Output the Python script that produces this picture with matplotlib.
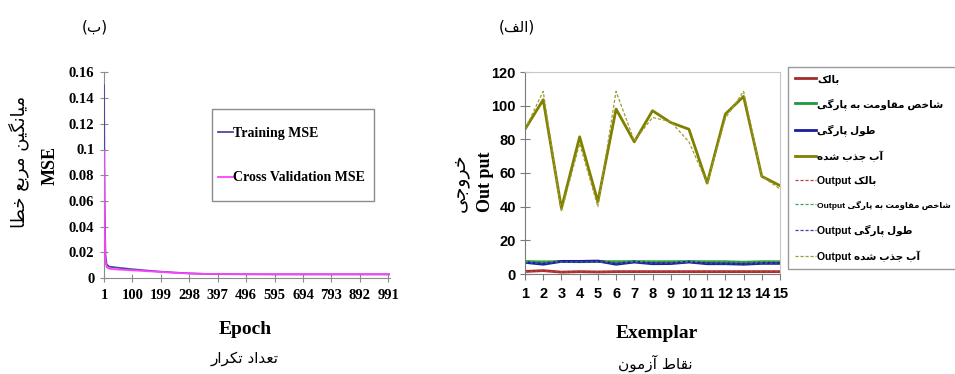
import matplotlib
matplotlib.use("Agg")
import matplotlib.pyplot as plt
from matplotlib.patches import Rectangle

# Persian letters -> presentation forms: (isolated, final) for right-joining
# letters, (isolated, final, initial, medial) for dual-joining ones.
FORMS = {
    "ا": (0xFE8D, 0xFE8E), "آ": (0xFE81, 0xFE82),
    "د": (0xFEA9, 0xFEAA), "ذ": (0xFEAB, 0xFEAC),
    "ر": (0xFEAD, 0xFEAE), "ز": (0xFEAF, 0xFEB0),
    "و": (0xFEED, 0xFEEE),
    "ب": (0xFE8F, 0xFE90, 0xFE91, 0xFE92),
    "پ": (0xFB56, 0xFB57, 0xFB58, 0xFB59),
    "ت": (0xFE95, 0xFE96, 0xFE97, 0xFE98),
    "ج": (0xFE9D, 0xFE9E, 0xFE9F, 0xFEA0),
    "خ": (0xFEA5, 0xFEA6, 0xFEA7, 0xFEA8),
    "ش": (0xFEB5, 0xFEB6, 0xFEB7, 0xFEB8),
    "ص": (0xFEB9, 0xFEBA, 0xFEBB, 0xFEBC),
    "ط": (0xFEC1, 0xFEC2, 0xFEC3, 0xFEC4),
    "ع": (0xFEC9, 0xFECA, 0xFECB, 0xFECC),
    "ف": (0xFED1, 0xFED2, 0xFED3, 0xFED4),
    "ق": (0xFED5, 0xFED6, 0xFED7, 0xFED8),
    "ک": (0xFB8E, 0xFB8F, 0xFB90, 0xFB91),
    "گ": (0xFB92, 0xFB93, 0xFB94, 0xFB95),
    "ل": (0xFEDD, 0xFEDE, 0xFEDF, 0xFEE0),
    "م": (0xFEE1, 0xFEE2, 0xFEE3, 0xFEE4),
    "ن": (0xFEE5, 0xFEE6, 0xFEE7, 0xFEE8),
    "ه": (0xFEE9, 0xFEEA, 0xFEEB, 0xFEEC),
    "ی": (0xFBFC, 0xFBFD, 0xFBFE, 0xFBFF),
}


def fa(text):
    """Shape Persian text and put it in visual (left-to-right) order."""
    out = []
    for i, ch in enumerate(text):
        forms = FORMS.get(ch)
        if forms is None:
            out.append(ch)
            continue
        prev = text[i - 1] if i > 0 else ""
        nxt = text[i + 1] if i + 1 < len(text) else ""
        join_prev = prev in FORMS and len(FORMS[prev]) == 4
        join_next = len(forms) == 4 and nxt in FORMS
        if join_prev and join_next:
            out.append(chr(forms[3]))
        elif join_prev:
            out.append(chr(forms[1]))
        elif join_next:
            out.append(chr(forms[2]))
        else:
            out.append(chr(forms[0]))
    return "".join(reversed(out)).translate(str.maketrans("()", ")("))


# --- (b) training curves ---
epochs = [1, 3, 6, 10, 20, 50, 100, 150, 200, 250, 300, 350, 400, 500,
          600, 700, 800, 900, 1000]
training_mse = [0.150, 0.060, 0.018, 0.0105, 0.0088, 0.0080, 0.0068, 0.0058,
                0.0049, 0.0042, 0.0036, 0.0032, 0.0030, 0.0029, 0.0028,
                0.0028, 0.0028, 0.0028, 0.0028]
cv_mse = [0.099, 0.040, 0.013, 0.0085, 0.0072, 0.0066, 0.0060, 0.0053,
          0.0047, 0.0040, 0.0035, 0.0032, 0.0031, 0.0030, 0.0030, 0.0030,
          0.0030, 0.0030, 0.0030]
epoch_ticks = [1, 100, 199, 298, 397, 496, 595, 694, 793, 892, 991]
mse_ticks = [0, 0.02, 0.04, 0.06, 0.08, 0.1, 0.12, 0.14, 0.16]
mse_tick_labels = ["0", "0.02", "0.04", "0.06", "0.08", "0.1", "0.12",
                   "0.14", "0.16"]

# --- (a) desired vs. network output on test points ---
exemplars = list(range(1, 16))
names = ["بالک", "شاخص مقاومت به پارگی", "طول پارگی", "آب جذب شده"]
bulk = [1.5, 2.0, 1.1, 1.4, 1.2, 1.4, 1.4, 1.4, 1.4, 1.4, 1.4, 1.4, 1.4,
        1.4, 1.4]
burst_index = [7.4, 7.2, 7.4, 7.3, 7.4, 7.3, 7.4, 7.3, 7.3, 7.4, 7.3, 7.3,
               7.0, 7.3, 7.3]
burst_length = [6.9, 5.8, 7.5, 7.5, 7.7, 5.8, 7.1, 6.1, 6.2, 7.1, 6.1, 6.1,
                5.8, 6.3, 6.3]
water_absorbed = [86, 103.5, 39, 81.5, 43, 98, 78.5, 97, 90, 86, 54, 95,
                  105.5, 58, 52.5]
bulk_out = [1.4, 1.9, 1.2, 1.3, 1.3, 1.4, 1.3, 1.4, 1.4, 1.3, 1.4, 1.4, 1.4,
            1.3, 1.4]
burst_index_out = [7.3, 7.3, 7.2, 7.4, 7.3, 7.2, 7.3, 7.4, 7.2, 7.3, 7.4,
                   7.2, 7.1, 7.2, 7.4]
burst_length_out = [6.8, 6.0, 7.4, 7.3, 7.6, 6.0, 7.0, 6.2, 6.3, 7.0, 6.2,
                    6.0, 6.0, 6.2, 6.4]
water_absorbed_out = [86, 108.5, 37, 77.5, 40, 108.5, 79, 93, 90.5, 78.5,
                      54, 92.5, 108.5, 58, 50.5]
output_ticks = [0, 20, 40, 60, 80, 100, 120]

colors = ["#a52a2a", "#1e9a3c", "#1c1c9c", "#808000"]
out_colors = ["#c04040", "#40a850", "#4040b0", "#9c9c30"]

SERIF = ["Liberation Serif", "DejaVu Sans"]
SANS = ["Liberation Sans", "DejaVu Sans"]
W, H = 955, 374


def fx(px):
    return px / W


def fy(px):
    return 1 - px / H


fig = plt.figure(figsize=(W / 100, H / 100), dpi=100)

# ---------------- left panel ----------------
ax1 = fig.add_axes([fx(104), fy(278), 286 / W, 205.6 / H])
ax1.plot(epochs, training_mse, color="#4a4a9e", lw=1.3, zorder=3,
         label="Training MSE")
ax1.plot(epochs, cv_mse, color="#ff40ff", lw=1.3, zorder=3,
         label="Cross Validation MSE")
ax1.set_xlim(1, 997)
ax1.set_ylim(0, 0.16)
ax1.set_xticks(epoch_ticks)
ax1.set_xticklabels([str(t) for t in epoch_ticks])
ax1.set_yticks(mse_ticks)
ax1.set_yticklabels(mse_tick_labels)
for side in ("top", "right"):
    ax1.spines[side].set_visible(False)
for side in ("left", "bottom"):
    ax1.spines[side].set_color("#8c8c8c")
ax1.tick_params(direction="inout", length=6, color="#8c8c8c")
ax1.tick_params(axis="y", pad=4)
ax1.tick_params(axis="x", pad=5)
for lbl in ax1.get_xticklabels() + ax1.get_yticklabels():
    lbl.set_family(SERIF)
    lbl.set_fontweight("bold")
    lbl.set_fontsize(10.5)

# legend entries sit inside a fixed box
fig.add_artist(Rectangle((fx(212), fy(201)), 162 / W, 92 / H,
                         transform=fig.transFigure, fill=False,
                         edgecolor="#8c8c8c", lw=1.0))
ax1.legend(loc="center left", bbox_to_anchor=(fx(218), fy(155.5)),
           bbox_transform=fig.transFigure, borderaxespad=0, borderpad=0,
           prop={"family": SERIF, "weight": "bold", "size": 10},
           handlelength=1.05, handletextpad=0.05, labelspacing=2.3,
           frameon=False)

fig.text(fx(95), fy(27), fa("(ب)"), family="DejaVu Sans",
         fontsize=11, ha="center", va="center")
fig.text(fx(19), fy(162), fa("میانگین مربع خطا"),
         family="DejaVu Sans", fontsize=13, rotation=90,
         ha="center", va="center")
fig.text(fx(50), fy(165), "MSE", family=SERIF, fontweight="bold",
         fontsize=13, rotation=90, ha="center", va="center")
fig.text(fx(245), fy(330), "Epoch", family=SERIF,
         fontweight="bold", fontsize=14, ha="center", va="center")
fig.text(fx(245), fy(358), fa("تعداد تکرار"), family="DejaVu Sans",
         fontsize=11, ha="center", va="center")

# ---------------- right panel ----------------
ax2 = fig.add_axes([fx(525), fy(274), 255 / W, 202 / H])
solid = [bulk, burst_index, burst_length, water_absorbed]
dashed = [bulk_out, burst_index_out, burst_length_out, water_absorbed_out]
handles = []
for values, color in zip(solid, colors):
    handles += ax2.plot(exemplars, values, color=color, lw=2.0)
for values, color in zip(dashed, out_colors):
    handles += ax2.plot(exemplars, values, color=color, lw=0.9,
                        ls=(0, (2.5, 1.5)))
ax2.set_xlim(1, 15)
ax2.set_ylim(0, 120)
ax2.set_xticks(exemplars)
ax2.set_yticks(output_ticks)
for side in ("top", "right"):
    ax2.spines[side].set_color("#c8c8c8")
for side in ("left", "bottom"):
    ax2.spines[side].set_color("#7a7a7a")
ax2.tick_params(axis="y", direction="inout", length=7, color="#7a7a7a", pad=3)
ax2.tick_params(axis="x", direction="out", length=4, color="#7a7a7a", pad=5)
for lbl in ax2.get_xticklabels() + ax2.get_yticklabels():
    lbl.set_family(SANS)
    lbl.set_fontweight("bold")
    lbl.set_fontsize(10.5)

labels = [fa(n) for n in names] + ["Output " + fa(n) for n in names]
leg2 = fig.legend(handles, labels, loc="upper left",
                  bbox_to_anchor=(fx(788), fy(67)),
                  bbox_transform=fig.transFigure, borderaxespad=0,
                  prop={"family": SANS, "weight": "bold", "size": 7.5},
                  handlelength=2.0, handletextpad=0.15, labelspacing=1.37,
                  borderpad=0.65, fancybox=False, edgecolor="#9a9a9a",
                  framealpha=1)
leg2.get_frame().set_linewidth(1.0)
# the longest entry is set a touch smaller so it stays on the page
leg2.get_texts()[5].set_fontsize(6.1)

fig.text(fx(517), fy(27), fa("(الف)"), family="DejaVu Sans",
         fontsize=11, ha="center", va="center")
fig.text(fx(459), fy(183), fa("خروجی"), family="DejaVu Sans",
         fontsize=13.5, rotation=90, ha="center", va="center")
fig.text(fx(485), fy(182), "Out put", family=SERIF,
         fontweight="bold", fontsize=13, rotation=90,
         ha="center", va="center")
fig.text(fx(657), fy(333), "Exemplar", family=SERIF,
         fontweight="bold", fontsize=14, ha="center", va="center")
fig.text(fx(655), fy(363), fa("نقاط آزمون"), family="DejaVu Sans",
         fontsize=11, ha="center", va="center")

fig.savefig("out.png", dpi=100)
